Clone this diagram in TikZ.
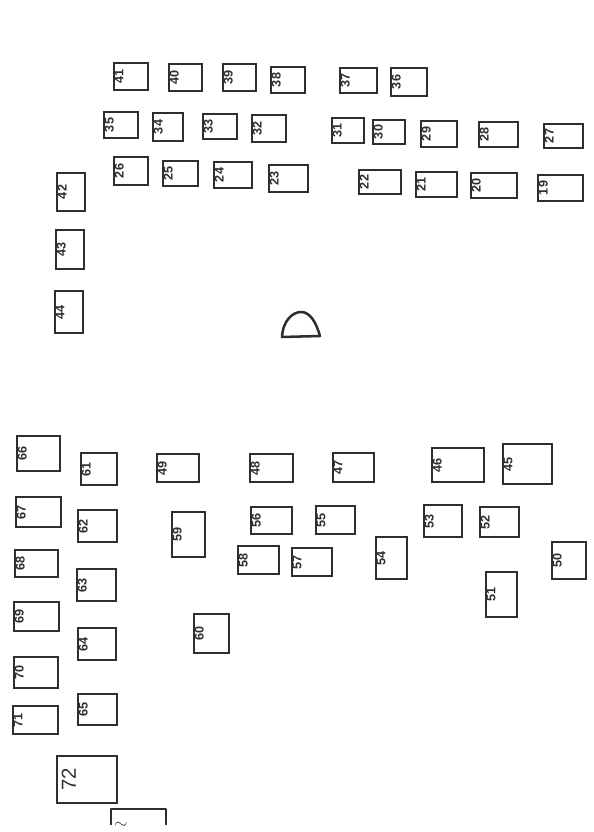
\documentclass[tikz,border=0pt]{standalone}
\usepackage{fontspec}
\setsansfont{Liberation Sans}
\usepackage{xcolor}
\usepackage{tikz}
\definecolor{inkD}{HTML}{2E2E2E}
\tikzset{
  deskbox/.style 2 args={draw=inkD, line width=1.8pt, inner sep=0pt,
                         minimum width={#1*0.025cm}, minimum height={#2*0.025cm}},
  seatlab/.style={rotate=90, anchor=north, font=\small\sffamily\bfseries, color=inkD,
                  inner sep=1.2pt},
  biglab/.style={seatlab, font=\Large\sffamily, inner sep=4pt},
  sketchline/.style={draw=inkD, line width=1.8pt, line join=round},
}
\begin{document}
\begin{tikzpicture}[x=0.025cm, y=-0.025cm]
  \useasboundingbox (0,0) rectangle (593,832);
  % top row
  \node[deskbox={34}{27}] (d41) at (131,76.5) {};
  \node[deskbox={33}{27}] (d40) at (185.5,77.5) {};
  \node[deskbox={33}{27}] (d39) at (239.5,77.5) {};
  \node[deskbox={34}{26}] (d38) at (288,80) {};
  \node[deskbox={37}{25}] (d37) at (358.5,80.5) {};
  \node[deskbox={36}{28}] (d36) at (409,82) {};
  % second row
  \node[deskbox={34}{26}] (d35) at (121,125) {};
  \node[deskbox={30}{28}] (d34) at (168,127) {};
  \node[deskbox={34}{25}] (d33) at (220,126.5) {};
  \node[deskbox={34}{27}] (d32) at (269,128.5) {};
  \node[deskbox={32}{25}] (d31) at (348,130.5) {};
  \node[deskbox={32}{24}] (d30) at (389,132) {};
  \node[deskbox={36}{26}] (d29) at (439,134) {};
  \node[deskbox={39}{25}] (d28) at (498.5,134.5) {};
  \node[deskbox={39}{24}] (d27) at (563.5,136) {};
  % third row
  \node[deskbox={34}{28}] (d26) at (131,171) {};
  \node[deskbox={35}{25}] (d25) at (180.5,173.5) {};
  \node[deskbox={38}{26}] (d24) at (233,175) {};
  \node[deskbox={39}{27}] (d23) at (288.5,178.5) {};
  \node[deskbox={42}{24}] (d22) at (380,182) {};
  \node[deskbox={41}{25}] (d21) at (436.5,184.5) {};
  \node[deskbox={46}{25}] (d20) at (494,185.5) {};
  \node[deskbox={45}{26}] (d19) at (560.5,188) {};
  % left column
  \node[deskbox={28}{38}] (d42) at (71,192) {};
  \node[deskbox={28}{39}] (d43) at (70,249.5) {};
  \node[deskbox={28}{42}] (d44) at (69,312) {};
  % arch
  \draw[sketchline] (282,337) .. controls (283,320) and (293,312) .. (301,312)
    .. controls (310,312) and (316,322) .. (320,336) -- cycle;
  % lower rows
  \node[deskbox={43}{35}] (d66) at (38.5,453.5) {};
  \node[deskbox={36}{32}] (d61) at (99,469) {};
  \node[deskbox={42}{28}] (d49) at (178,468) {};
  \node[deskbox={43}{28}] (d48) at (271.5,468) {};
  \node[deskbox={41}{29}] (d47) at (353.5,467.5) {};
  \node[deskbox={52}{34}] (d46) at (458,465) {};
  \node[deskbox={49}{40}] (d45) at (527.5,464) {};
  \node[deskbox={45}{30}] (d67) at (38.5,512) {};
  \node[deskbox={39}{32}] (d62) at (97.5,526) {};
  \node[deskbox={33}{45}] (d59) at (188.5,534.5) {};
  \node[deskbox={41}{27}] (d56) at (271.5,520.5) {};
  \node[deskbox={39}{28}] (d55) at (335.5,520) {};
  \node[deskbox={38}{32}] (d53) at (443,521) {};
  \node[deskbox={39}{30}] (d52) at (499.5,522) {};
  \node[deskbox={41}{28}] (d58) at (258.5,560) {};
  \node[deskbox={40}{28}] (d57) at (312,562) {};
  \node[deskbox={31}{42}] (d54) at (391.5,558) {};
  \node[deskbox={31}{45}] (d51) at (501.5,594.5) {};
  \node[deskbox={34}{37}] (d50) at (569,560.5) {};
  \node[deskbox={43}{27}] (d68) at (36.5,563.5) {};
  \node[deskbox={39}{32}] (d63) at (96.5,585) {};
  \node[deskbox={45}{29}] (d69) at (36.5,616.5) {};
  \node[deskbox={38}{32}] (d64) at (97,644) {};
  \node[deskbox={35}{39}] (d60) at (211.5,633.5) {};
  \node[deskbox={44}{31}] (d70) at (36,672.5) {};
  \node[deskbox={39}{31}] (d65) at (97.5,709.5) {};
  \node[deskbox={45}{28}] (d71) at (35.5,720) {};
  \node[deskbox={60}{47}] (d72) at (87,779.5) {};
  % numbers
  \node[seatlab] at (d41.west) {41};
  \node[seatlab] at (d40.west) {40};
  \node[seatlab] at (d39.west) {39};
  \node[seatlab] at (d38.west) {38};
  \node[seatlab] at (d37.west) {37};
  \node[seatlab] at (d36.west) {36};
  \node[seatlab] at (d35.west) {35};
  \node[seatlab] at (d34.west) {34};
  \node[seatlab] at (d33.west) {33};
  \node[seatlab] at (d32.west) {32};
  \node[seatlab] at (d31.west) {31};
  \node[seatlab] at (d30.west) {30};
  \node[seatlab] at (d29.west) {29};
  \node[seatlab] at (d28.west) {28};
  \node[seatlab] at (d27.west) {27};
  \node[seatlab] at (d26.west) {26};
  \node[seatlab] at (d25.west) {25};
  \node[seatlab] at (d24.west) {24};
  \node[seatlab] at (d23.west) {23};
  \node[seatlab] at (d22.west) {22};
  \node[seatlab] at (d21.west) {21};
  \node[seatlab] at (d20.west) {20};
  \node[seatlab] at (d19.west) {19};
  \node[seatlab] at (d42.west) {42};
  \node[seatlab] at (d43.west) {43};
  \node[seatlab] at (d44.west) {44};
  \node[seatlab] at (d66.west) {66};
  \node[seatlab] at (d61.west) {61};
  \node[seatlab] at (d49.west) {49};
  \node[seatlab] at (d48.west) {48};
  \node[seatlab] at (d47.west) {47};
  \node[seatlab] at (d46.west) {46};
  \node[seatlab] at (d45.west) {45};
  \node[seatlab] at (d67.west) {67};
  \node[seatlab] at (d62.west) {62};
  \node[seatlab] at (d59.west) {59};
  \node[seatlab] at (d56.west) {56};
  \node[seatlab] at (d55.west) {55};
  \node[seatlab] at (d53.west) {53};
  \node[seatlab] at (d52.west) {52};
  \node[seatlab] at (d58.west) {58};
  \node[seatlab] at (d57.west) {57};
  \node[seatlab] at (d54.west) {54};
  \node[seatlab] at (d51.west) {51};
  \node[seatlab] at (d50.west) {50};
  \node[seatlab] at (d68.west) {68};
  \node[seatlab] at (d63.west) {63};
  \node[seatlab] at (d69.west) {69};
  \node[seatlab] at (d64.west) {64};
  \node[seatlab] at (d60.west) {60};
  \node[seatlab] at (d70.west) {70};
  \node[seatlab] at (d65.west) {65};
  \node[seatlab] at (d71.west) {71};
  \node[biglab] at (d72.west) {72};
  % cut off at the page foot
  \draw[sketchline] (111,825) -- (111,809) -- (166,809) -- (166,825);
  \node[inner sep=0pt, color=inkD, scale=1.2] (tilde) at (121,825) {$\sim$};
\end{tikzpicture}
\end{document}
